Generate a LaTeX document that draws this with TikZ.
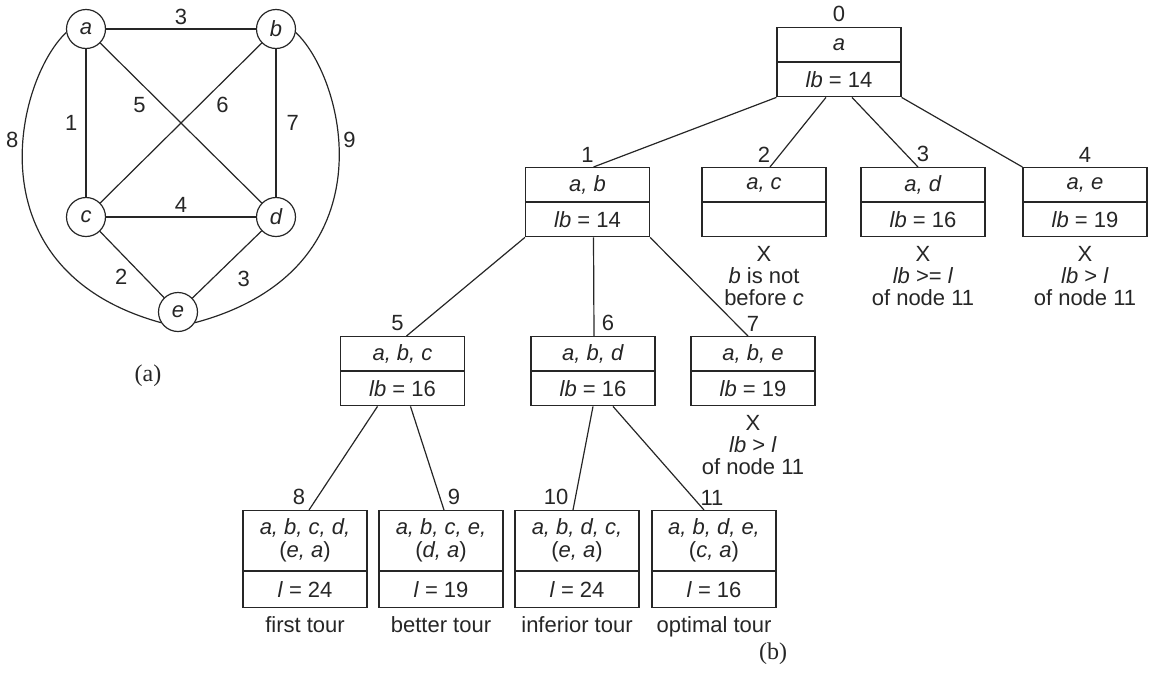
\documentclass[tikz,border=0pt]{standalone}
\usepackage{fontspec}
\setmainfont{Liberation Sans}
\newfontfamily\capfont{Liberation Serif}
\usetikzlibrary{positioning}

\begin{document}
\begin{tikzpicture}[x=0.5pt, y=-0.5pt, color=black!85, line width=0.6pt,
    every node/.style={font=\fontsize{11}{11.5}\selectfont},
    vtx/.style={draw, circle, minimum size=19.5pt, inner sep=0pt, font=\fontsize{11}{11.5}\selectfont\itshape},
    lbl/.style={inner sep=2pt},
    tbox/.style={draw, minimum width=62pt, minimum height=17pt, inner sep=0pt, align=center},
    tall/.style={tbox, minimum height=30pt},
    low/.style={tbox, minimum height=18pt},
    num/.style={inner sep=2.2pt},
    note/.style={align=center, inner sep=1pt, font=\fontsize{11}{11}\selectfont}
]
\useasboundingbox (0,0) rectangle (1151,686);

% (a) the graph
\node[vtx] (a) at (86,29) {a};
\node[vtx] (b) at (276,29) {b};
\node[vtx] (c) at (86,217) {c};
\node[vtx] (d) at (276,217) {d};
\node[vtx] (e) at (178,312) {e};

\draw (a) -- node[lbl, above] {3} (b);
\draw (a) -- node[lbl, left=2pt] {1} (c);
\draw (a) -- node[lbl, pos=.31, below left] {5} (d);
\draw (b) -- node[lbl, pos=.31, below right] {6} (c);
\draw (b) -- node[lbl, right=3pt] {7} (d);
\draw (c) -- node[lbl, above] {4} (d);
\draw (c) -- node[lbl, below left] {2} (e);
\draw (d) -- node[lbl, below right=1pt and 3pt] {3} (e);
\draw (a.190) .. controls (16,80) and (-30,270) .. (e.212) node[lbl, pos=.4, left] {8};
\draw (b.350) .. controls (346,80) and (392,270) .. (e.328) node[lbl, pos=.4, right] {9};

\node[font=\capfont\fontsize{12}{14}\selectfont] (capa) at (148,376) {(a)};

% (b) the state-space tree
\node[tbox, anchor=north, label={[num]above:0}] (n0) at (839,27) {\textit{a}};
\node[tbox, below=0pt of n0] (n0b) {\textit{lb} = 14};

\node[tbox, anchor=north, label={[num]above:1}] (n1) at (587.5,167) {\textit{a, b}};
\node[tbox, below=0pt of n1] (n1b) {\textit{lb} = 14};
\node[tbox, anchor=north, label={[num]above:2}] (n2) at (764,167) {\textit{a, c}};
\node[tbox, below=0pt of n2] (n2b) {};
\node[tbox, anchor=north, label={[num]above:3}] (n3) at (923,167) {\textit{a, d}};
\node[tbox, below=0pt of n3] (n3b) {\textit{lb} = 16};
\node[tbox, anchor=north, label={[num]above:4}] (n4) at (1085,167) {\textit{a, e}};
\node[tbox, below=0pt of n4] (n4b) {\textit{lb} = 19};

\node[tbox, anchor=north, label={[num,xshift=-2.5pt]above:5}] (n5) at (402.5,336) {\textit{a, b, c}};
\node[tbox, below=0pt of n5] (n5b) {\textit{lb} = 16};
\node[tbox, anchor=north, label={[num,xshift=7.5pt]above:6}] (n6) at (593,336) {\textit{a, b, d}};
\node[tbox, below=0pt of n6] (n6b) {\textit{lb} = 16};
\node[tbox, anchor=north, label={[num]above:7}] (n7) at (753,336) {\textit{a, b, e}};
\node[tbox, below=0pt of n7] (n7b) {\textit{lb} = 19};

\node[tall, anchor=north, label={[num,xshift=-3pt]above:8}] (n8) at (305,510) {\textit{a, b, c, d,}\\(\textit{e, a})};
\node[low, below=0pt of n8] (n8b) {\textit{l} = 24};
\node[tall, anchor=north, label={[num,xshift=6.5pt]above:9}] (n9) at (441,510) {\textit{a, b, c, e,}\\(\textit{d, a})};
\node[low, below=0pt of n9] (n9b) {\textit{l} = 19};
\node[tall, anchor=north, label={[num,xshift=-10.5pt]above:10}] (n10) at (577,510) {\textit{a, b, d, c,}\\(\textit{e, a})};
\node[low, below=0pt of n10] (n10b) {\textit{l} = 24};
\node[tall, anchor=north, label={[num,xshift=-1pt]above:11}] (n11) at (714,510) {\textit{a, b, d, e,}\\(\textit{c, a})};
\node[low, below=0pt of n11] (n11b) {\textit{l} = 16};

\draw (n0b.south west) -- ([xshift=3pt]n1.north);
\draw ([xshift=-6.5pt]n0b.south) -- ([xshift=3pt]n2.north);
\draw ([xshift=6.5pt]n0b.south) -- ([xshift=-2.5pt]n3.north);
\draw (n0b.south east) -- (n4.north west);
\draw (n1b.south west) -- ([xshift=2pt]n5.north);
\draw ([xshift=3pt]n1b.south) -- ([xshift=0.5pt]n6.north);
\draw (n1b.south east) -- ([xshift=-2.5pt]n7.north);
\draw ([xshift=-12.5pt]n5b.south) -- ([xshift=2pt]n8.north);
\draw ([xshift=4pt]n5b.south) -- ([xshift=1.5pt]n9.north);
\draw (n6b.south) -- ([xshift=-2pt]n10.north);
\draw ([xshift=10pt]n6b.south) -- ([xshift=-5pt]n11.north);

% pruned nodes
\node[note, below=3pt of n2b] (x2) {X\\\textit{b} is not\\before \textit{c}};
\node[note, below=3pt of n3b] (x3) {X\\\textit{lb} >= \textit{l}\\of node 11};
\node[note, below=3pt of n4b] (x4) {X\\\textit{lb} > \textit{l}\\of node 11};
\node[note, below=3pt of n7b] (x7) {X\\\textit{lb} > \textit{l}\\of node 11};

\node[note, below=3pt of n8b] (t8) {first tour};
\node[note, below=3pt of n9b] (t9) {better tour};
\node[note, below=3pt of n10b] (t10) {inferior tour};
\node[note, below=3pt of n11b] (t11) {optimal tour};

\node[font=\capfont\fontsize{12}{14}\selectfont] (capb) at (773,654) {(b)};
\end{tikzpicture}
\end{document}
